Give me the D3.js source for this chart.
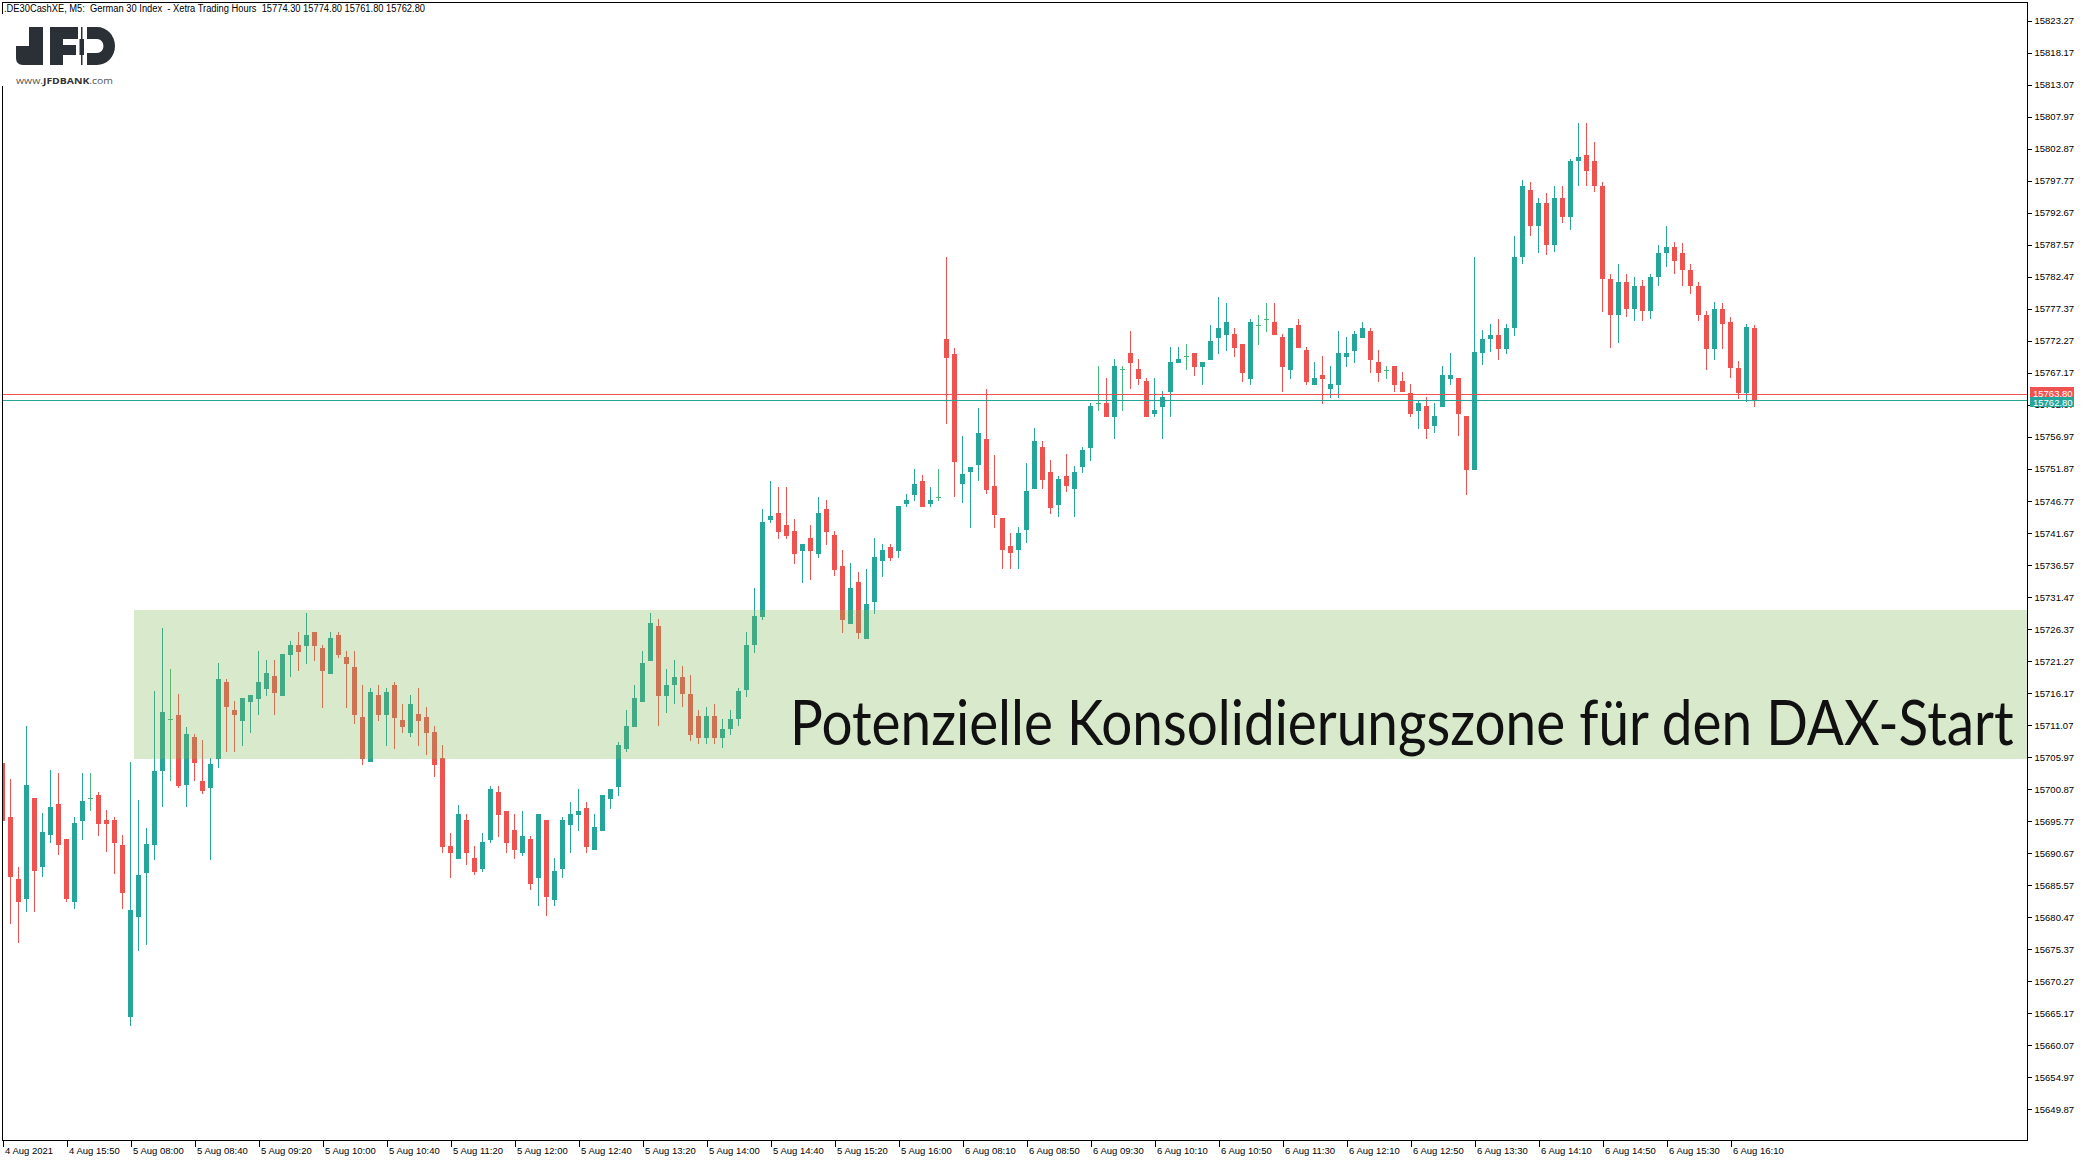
<!DOCTYPE html>
<html><head><meta charset="utf-8">
<script src="https://cdn.jsdelivr.net/npm/d3@7"></script>
<style>
html,body{margin:0;padding:0;background:#fff;overflow:hidden;}
svg{display:block;}
</style></head><body>
<script>
// ---------------- DATA ----------------
const openArr=[
15705.1,15696.4,15686.5,15683.4,15699.5,15688.4,15693.5,15698.5,15692.9,15682.9,
15695.8,15699.4,15699.9,15696.0,15696.0,15692.0,15664.6,15680.5,15687.5,15692.0,
15703.7,15712.1,15712.7,15701.6,15709.2,15702.2,15701.1,15705.7,15717.9,15713.5,
15711.7,15714.8,15715.2,15716.8,15718.9,15715.7,15722.2,15723.8,15723.7,15725.9,
15723.4,15719.2,15725.4,15721.9,15720.3,15712.4,15705.2,15715.9,15712.7,15717.5,
15711.9,15709.8,15712.8,15712.4,15710.0,15705.8,15691.8,15689.8,15696.0,15689.9,
15688.2,15692.8,15700.4,15697.4,15694.4,15690.7,15692.9,15686.7,15696.0,15683.2,
15688.2,15695.2,15696.8,15697.9,15691.2,15694.2,15699.3,15701.2,15707.3,15710.8,
15714.8,15721.3,15726.9,15715.7,15717.5,15718.8,15716.0,15712.5,15709.0,15712.5,
15709.0,15710.5,15712.0,15716.6,15723.8,15728.3,15743.7,15744.9,15742.9,15742.0,
15738.8,15740.9,15738.3,15745.5,15741.4,15736.4,15727.2,15733.9,15724.8,15730.7,
15737.2,15739.4,15738.8,15746.3,15747.7,15750.0,15746.3,15747.4,15772.6,15770.2,
15749.5,15751.4,15752.5,15756.6,15749.2,15744.1,15739.6,15739.0,15742.1,15748.7,
15755.4,15751.4,15746.1,15750.7,15748.7,15752.2,15755.2,15762.4,15762.4,15760.1,
15767.8,15770.3,15767.8,15765.9,15760.6,15761.7,15764.1,15768.8,15769.8,15770.3,
15768.1,15769.2,15772.7,15773.2,15773.4,15771.8,15766.2,15774.8,15775.8,15775.3,
15772.9,15767.6,15774.8,15770.8,15765.2,15766.8,15764.6,15765.2,15769.7,15770.7,
15772.7,15773.8,15768.9,15767.7,15768.3,15765.9,15764.0,15761.1,15761.9,15758.7,
15761.7,15766.2,15766.4,15760.3,15751.7,15770.4,15772.6,15773.2,15771.0,15774.4,
15785.7,15796.3,15790.6,15794.2,15787.5,15795.0,15792.0,15800.9,15801.8,15801.0,
15796.9,15782.1,15776.4,15781.7,15777.4,15781.0,15777.0,15782.5,15786.3,15787.3,
15786.3,15783.6,15781.0,15776.4,15770.9,15777.4,15775.3,15767.9,15764.0,15774.3
];
const highArr=[
15705.5,15702.5,15688.5,15710.9,15699.5,15697.1,15703.9,15703.4,15692.9,15696.4,
15703.4,15703.4,15700.4,15697.5,15696.4,15693.6,15705.2,15699.1,15694.7,15716.5,
15726.6,15720.0,15716.0,15710.8,15709.7,15708.7,15705.8,15721.0,15718.4,15714.9,
15715.4,15715.9,15722.9,15721.4,15721.4,15722.4,15724.5,15725.9,15728.9,15725.9,
15723.8,15725.9,15725.9,15722.9,15722.9,15717.5,15717.0,15717.5,15717.0,15717.9,
15714.4,15715.9,15717.0,15714.0,15710.9,15707.9,15693.9,15698.4,15696.9,15691.8,
15693.9,15701.4,15701.4,15697.4,15696.9,15697.4,15693.4,15696.9,15696.0,15689.9,
15696.4,15698.8,15700.9,15698.8,15696.9,15699.9,15700.9,15708.4,15713.5,15717.5,
15722.9,15728.9,15728.0,15720.0,15721.5,15720.5,15719.0,15713.5,15714.0,15714.5,
15712.0,15713.5,15717.0,15725.9,15732.9,15745.5,15750.0,15749.0,15749.0,15743.9,
15739.9,15742.9,15747.4,15746.9,15742.0,15739.0,15736.9,15735.5,15735.9,15740.9,
15739.9,15739.9,15746.0,15747.9,15751.9,15750.9,15749.0,15751.9,15785.6,15771.1,
15757.1,15752.2,15761.6,15764.6,15754.1,15744.1,15741.7,15742.6,15752.8,15758.4,
15756.3,15753.3,15750.7,15754.3,15752.3,15755.4,15762.4,15768.3,15766.4,15769.4,
15768.3,15773.8,15769.4,15766.4,15766.4,15764.3,15771.3,15771.3,15771.8,15770.3,
15768.9,15774.8,15779.3,15778.3,15774.3,15771.8,15775.8,15776.4,15778.3,15778.3,
15773.4,15774.3,15775.8,15771.3,15768.9,15769.9,15768.3,15773.8,15772.9,15773.8,
15775.3,15774.3,15770.8,15768.3,15768.3,15767.3,15765.4,15762.7,15763.3,15762.4,
15768.3,15770.3,15766.4,15760.3,15785.7,15774.0,15774.9,15775.8,15775.0,15788.9,
15797.9,15797.6,15795.0,15795.8,15796.9,15797.0,15801.2,15806.9,15806.9,15804.0,
15797.5,15783.0,15784.5,15783.0,15782.5,15782.0,15783.0,15787.5,15790.6,15788.0,
15787.8,15784.5,15781.7,15777.0,15778.5,15778.3,15776.0,15769.0,15775.0,15774.8
];
const lowArr=[
15695.5,15679.4,15676.4,15681.3,15681.3,15686.9,15692.3,15690.4,15682.9,15681.8,
15692.8,15697.4,15693.4,15690.9,15687.3,15681.8,15663.1,15675.1,15676.1,15689.6,
15698.0,15702.1,15701.1,15698.0,15702.1,15700.1,15689.6,15704.3,15706.8,15706.8,
15707.7,15709.8,15712.7,15715.7,15712.7,15715.7,15718.7,15719.7,15720.8,15721.3,
15713.8,15719.2,15721.8,15713.8,15711.3,15704.7,15705.2,15711.7,15707.7,15707.3,
15709.8,15709.2,15707.7,15706.3,15702.8,15690.7,15686.7,15689.8,15688.8,15687.2,
15687.7,15692.3,15693.3,15690.7,15689.8,15690.2,15684.8,15682.3,15680.7,15682.3,
15686.7,15690.7,15694.2,15690.7,15691.2,15694.2,15697.7,15699.8,15706.8,15710.8,
15714.8,15721.3,15711.0,15713.0,15714.5,15714.0,15708.5,15708.0,15708.0,15708.0,
15707.5,15709.5,15711.0,15715.5,15722.5,15727.8,15743.3,15740.7,15740.7,15736.7,
15733.7,15734.2,15737.7,15739.8,15734.8,15725.7,15727.2,15724.8,15724.8,15728.8,
15734.7,15737.2,15737.7,15745.8,15746.8,15745.8,15745.8,15746.8,15759.0,15747.4,
15746.4,15742.5,15750.0,15747.9,15742.5,15735.9,15735.9,15735.9,15740.1,15748.7,
15748.7,15744.7,15744.2,15748.2,15744.2,15751.2,15753.1,15761.1,15760.1,15756.6,
15761.1,15764.6,15765.2,15760.1,15760.1,15756.6,15760.1,15768.8,15767.6,15766.7,
15765.2,15769.2,15770.2,15770.7,15769.7,15765.7,15765.2,15771.6,15773.7,15773.2,
15764.1,15766.2,15771.1,15765.2,15765.2,15762.2,15763.2,15763.2,15768.1,15768.8,
15772.7,15767.2,15765.7,15766.2,15764.1,15764.1,15760.1,15758.2,15756.6,15757.6,
15761.7,15765.2,15757.1,15747.7,15751.7,15768.5,15770.5,15769.2,15770.2,15773.0,
15784.5,15789.0,15786.3,15786.0,15786.5,15791.0,15790.0,15797.0,15797.0,15796.0,
15776.8,15771.1,15772.0,15776.0,15775.5,15775.5,15775.8,15781.0,15784.0,15783.0,
15781.0,15779.8,15775.5,15767.7,15769.3,15771.0,15766.3,15763.0,15762.5,15761.8
];
const closeArr=[
15695.8,15686.9,15682.9,15701.5,15687.8,15694.0,15698.0,15691.9,15683.4,15695.5,
15699.0,15699.4,15695.3,15695.3,15692.3,15684.3,15681.6,15687.2,15692.1,15703.8,
15713.2,15712.1,15701.4,15709.7,15705.1,15700.6,15704.9,15718.4,15713.9,15712.7,
15715.4,15715.9,15717.9,15719.4,15716.2,15722.4,15723.8,15722.7,15725.4,15723.7,
15719.7,15725.0,15722.2,15720.8,15712.7,15705.7,15716.4,15712.7,15716.4,15712.2,
15710.8,15714.4,15711.7,15709.8,15704.7,15691.7,15690.7,15696.9,15690.7,15687.7,
15692.5,15700.9,15696.8,15692.3,15691.2,15693.4,15685.8,15696.9,15683.7,15687.8,
15696.0,15696.9,15697.4,15691.7,15694.8,15699.9,15700.9,15707.9,15710.9,15715.4,
15721.0,15727.3,15715.7,15717.5,15718.8,15716.0,15709.5,15709.0,15712.5,15709.0,
15710.5,15712.0,15716.5,15723.8,15728.4,15743.4,15744.4,15741.8,15741.2,15738.3,
15739.9,15738.8,15744.9,15741.8,15735.8,15727.8,15732.9,15725.7,15730.4,15737.9,
15739.0,15737.7,15746.0,15746.9,15749.5,15745.8,15746.9,15747.4,15769.5,15753.0,
15751.1,15752.2,15757.6,15748.5,15744.5,15739.0,15738.5,15741.7,15748.4,15756.3,
15750.1,15745.7,15750.3,15749.2,15751.4,15754.9,15761.9,15762.4,15760.1,15768.3,
15767.8,15768.7,15766.2,15760.1,15761.3,15763.3,15768.9,15769.4,15769.8,15768.1,
15768.9,15772.3,15774.3,15775.3,15771.1,15767.2,15775.3,15774.8,15775.8,15773.2,
15768.1,15774.3,15771.1,15765.7,15766.4,15766.2,15765.4,15770.3,15770.3,15773.4,
15774.3,15769.2,15767.2,15767.7,15765.2,15764.1,15760.6,15762.4,15758.2,15760.3,
15766.8,15766.8,15760.6,15751.7,15770.5,15772.6,15773.2,15771.0,15774.4,15785.7,
15796.9,15790.6,15794.2,15787.5,15795.0,15792.0,15800.9,15801.5,15799.4,15796.9,
15782.1,15776.4,15781.7,15777.4,15781.0,15777.0,15782.5,15786.3,15787.3,15785.0,
15783.6,15781.0,15776.4,15770.9,15777.4,15775.0,15767.9,15764.0,15774.5,15762.8
];
const timeLabels=["4 Aug 2021","4 Aug 15:50","5 Aug 08:00","5 Aug 08:40","5 Aug 09:20","5 Aug 10:00","5 Aug 10:40","5 Aug 11:20","5 Aug 12:00","5 Aug 12:40","5 Aug 13:20","5 Aug 14:00","5 Aug 14:40","5 Aug 15:20","5 Aug 16:00","6 Aug 08:10","6 Aug 08:50","6 Aug 09:30","6 Aug 10:10","6 Aug 10:50","6 Aug 11:30","6 Aug 12:10","6 Aug 12:50","6 Aug 13:30","6 Aug 14:10","6 Aug 14:50","6 Aug 15:30","6 Aug 16:10"];
const labelBarIndex=[0,8,16,24,32,40,48,56,64,72,80,88,96,104,112,120,128,136,144,152,160,168,176,184,192,200,208,216];
const priceTicks=[15823.27,15818.17,15813.07,15807.97,15802.87,15797.77,15792.67,15787.57,15782.47,15777.37,15772.27,15767.17,15762.07,15756.97,15751.87,15746.77,15741.67,15736.57,15731.47,15726.37,15721.27,15716.17,15711.07,15705.97,15700.87,15695.77,15690.67,15685.57,15680.47,15675.37,15670.27,15665.17,15660.07,15654.97,15649.87];
const askPrice=15763.80, bidPrice=15762.80;
const zoneTop=15729.4, zoneBottom=15705.6, zoneStartBar=16.45;
const headerText=".DE30CashXE, M5:  German 30 Index  - Xetra Trading Hours  15774.30 15774.80 15761.80 15762.80";
const zoneText="Potenzielle Konsolidierungszone für den DAX-Start";

// ---------------- CHART ----------------
const W=2085,H=1162;
const L=2.5,T=2.5,R=2027.5,B=1140.5;
const bull="#26a69a", bear="#ef5350", dojiC="#45b87a";
const axisFont="'Liberation Sans', Arial, sans-serif";

const svg=d3.select("body").append("svg").attr("width",W).attr("height",H)
  .style("font-family",axisFont);
svg.append("rect").attr("width",W).attr("height",H).attr("fill","#fff");

const n=openArr.length;
const x=d3.scaleLinear().domain([0,n-1]).range([2.5,2.5+8*(n-1)]);
const y=d3.scaleLinear().domain([15649.87,15823.27]).range([1109.3,20.7]);

const data=openArr.map((o,i)=>({i,o,h:highArr[i],l:lowArr[i],c:closeArr[i]}));
const col=d=>Math.abs(d.c-d.o)<0.05?dojiC:(d.c>d.o?bull:bear);

svg.append("clipPath").attr("id","plotclip").append("rect")
  .attr("x",L).attr("y",T).attr("width",R-L).attr("height",B-T);
const g=svg.append("g").attr("clip-path","url(#plotclip)").attr("shape-rendering","crispEdges");

g.selectAll("rect.wick").data(data).join("rect").attr("class","wick")
  .attr("x",d=>x(d.i)-0.5).attr("width",1)
  .attr("y",d=>y(d.h)).attr("height",d=>Math.max(1,y(d.l)-y(d.h)))
  .attr("fill",col);
g.selectAll("rect.body").data(data).join("rect").attr("class","body")
  .attr("x",d=>x(d.i)-2.5).attr("width",5)
  .attr("y",d=>y(Math.max(d.o,d.c)))
  .attr("height",d=>Math.max(1,Math.abs(y(d.o)-y(d.c))))
  .attr("fill",col);

// bid / ask lines
g.append("line").attr("x1",L).attr("x2",R).attr("y1",Math.round(y(askPrice))+0.5).attr("y2",Math.round(y(askPrice))+0.5)
  .attr("stroke",bear).attr("stroke-width",1);
g.append("line").attr("x1",L).attr("x2",R).attr("y1",Math.round(y(bidPrice))+0.5).attr("y2",Math.round(y(bidPrice))+0.5)
  .attr("stroke",bull).attr("stroke-width",1);

// zone
g.append("rect").attr("x",x(zoneStartBar)).attr("width",R-x(zoneStartBar))
  .attr("y",y(zoneTop)).attr("height",y(zoneBottom)-y(zoneTop))
  .attr("fill","rgb(130,185,89)").attr("fill-opacity",0.31);

// zone caption: size the font so its natural width fits, then stretch vertically
const capH=61, capW=1224;
const zt=svg.append("text").attr("x",0).attr("y",0)
  .attr("font-family","Lato, 'Noto Sans', sans-serif").attr("font-size",capH)
  .attr("fill","#111").text(zoneText);
const natW=zt.node().getComputedTextLength();
const fs=capH*capW/natW;
zt.attr("font-size",fs).attr("transform",`translate(790,745) scale(1,${capH/fs})`);

// right axis
const ra=svg.append("g").attr("transform",`translate(${R},0)`)
  .call(d3.axisRight(y).tickValues(priceTicks).tickSize(4).tickPadding(3).tickFormat(d3.format(".2f")));
ra.select(".domain").remove();
ra.selectAll("text").attr("font-size",9.5).attr("font-family",axisFont).attr("fill","#000");
ra.selectAll("line").attr("stroke","#000").attr("shape-rendering","crispEdges");

// bottom axis
const ba=svg.append("g").attr("transform",`translate(0,${B})`)
  .call(d3.axisBottom(x).tickValues(labelBarIndex).tickSize(6).tickPadding(1)
    .tickFormat((d,k)=>timeLabels[k]));
ba.select(".domain").remove();
ba.selectAll("text").attr("text-anchor","start").attr("x",2).attr("font-size",9.5)
  .attr("font-family",axisFont).attr("fill","#000");
ba.selectAll("line").attr("stroke","#000").attr("shape-rendering","crispEdges");

// price tags
const ay=Math.round(y(askPrice));
svg.append("rect").attr("x",2030).attr("y",ay-7).attr("width",44).attr("height",10).attr("fill",bear);
svg.append("text").attr("x",2033).attr("y",ay+3).attr("font-size",9.5).attr("fill","#fff").text(askPrice.toFixed(2));
svg.append("rect").attr("x",2030).attr("y",ay+3).attr("width",44).attr("height",10).attr("fill",bull);
svg.append("text").attr("x",2033).attr("y",ay+12).attr("font-size",9.5).attr("fill","#fff").text(bidPrice.toFixed(2));

// border
svg.append("rect").attr("x",L).attr("y",T).attr("width",R-L).attr("height",B-T)
  .attr("fill","none").attr("stroke","#000").attr("stroke-width",1).attr("shape-rendering","crispEdges");

// header
svg.append("text").attr("x",4).attr("y",11.5).attr("font-size",10).attr("fill","#000")
  .attr("textLength",421).attr("lengthAdjust","spacingAndGlyphs")
  .style("white-space","pre").text(headerText);

// logo
const lg=svg.append("g");
lg.append("rect").attr("x",0).attr("y",14).attr("width",124).attr("height",72).attr("fill","#fff");
const lc="#2b2f36";
lg.append("rect").attr("x",29).attr("y",27).attr("width",14).attr("height",38).attr("fill",lc);
lg.append("path").attr("d","M16,46 h13 v6 h14 v13 h-20 q-7,0 -7,-7 z").attr("fill",lc);
lg.append("rect").attr("x",50).attr("y",27).attr("width",13).attr("height",38).attr("fill",lc);
lg.append("rect").attr("x",50).attr("y",27).attr("width",28).attr("height",12).attr("fill",lc);
lg.append("rect").attr("x",50).attr("y",45).attr("width",26).attr("height",10).attr("fill",lc);
lg.append("rect").attr("x",81).attr("y",27).attr("width",1.5).attr("height",38).attr("fill",lc);
lg.append("rect").attr("x",79.5).attr("y",39).attr("width",4.5).attr("height",16).attr("fill",lc);
lg.append("path").attr("d","M87,27 h10 a18,19 0 0 1 0,38 h-10 v-12 h10 a6.5,7 0 0 0 0,-14 h-10 z").attr("fill",lc);
const tg=lg.append("text").attr("x",16).attr("y",84).attr("font-size",9).attr("fill","#555")
  .attr("font-family","'Open Sans', Arial, sans-serif").attr("textLength",97).attr("lengthAdjust","spacingAndGlyphs");
tg.append("tspan").text("www.");
tg.append("tspan").attr("font-weight","bold").attr("fill","#333").text("JFDBANK");
tg.append("tspan").text(".com");
</script>
</body></html>
